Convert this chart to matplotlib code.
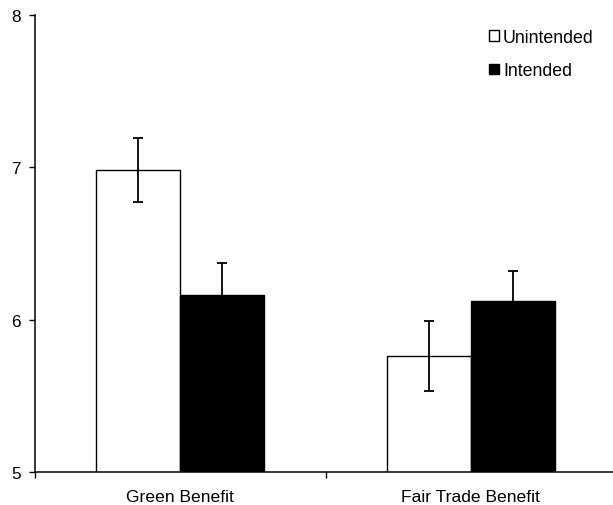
import matplotlib
matplotlib.use("Agg")
import matplotlib.pyplot as plt
import numpy as np

categories = ["Green Benefit", "Fair Trade Benefit"]
series_names = ["Unintended", "Intended"]
unintended = [6.98, 5.76]
intended = [6.16, 6.12]
unintended_err = [0.21, 0.23]
intended_err = [0.21, 0.20]
y_ticks = [5, 6, 7, 8]

plt.rcParams['font.family'] = ['Liberation Sans', 'DejaVu Sans']

fig = plt.figure(figsize=(6.13, 5.06), dpi=100)
ax = fig.add_axes([35/613, 33/506, 581/613, (473-16)/506])

x = np.arange(len(categories))
w = 0.29
err_kw = dict(elinewidth=1.3, capthick=1.3, ecolor='black')
b1 = ax.bar(x - w/2, unintended, w, bottom=0, color='white', edgecolor='black',
            linewidth=1.0, yerr=unintended_err, capsize=3.5, error_kw=err_kw,
            label=series_names[0], zorder=2)
b2 = ax.bar(x + w/2, intended, w, bottom=0, color='black', edgecolor='black',
            linewidth=1.0, yerr=intended_err, capsize=3.5, error_kw=err_kw,
            label=series_names[1], zorder=2)

ax.set_ylim(5, 8)
ax.set_xlim(-0.5, 1.5)
ax.set_yticks(y_ticks)
ax.set_yticklabels([str(t) for t in y_ticks], fontsize=12.3)
ax.set_xticks(x)
ax.set_xticklabels(categories, fontsize=12.6)
ax.set_xticks([-0.5, 0.5, 1.5], minor=True)
ax.tick_params(axis='x', which='major', length=0, pad=12)
ax.tick_params(axis='x', which='minor', length=4, width=1.0, direction='out')
ax.tick_params(axis='y', length=4, width=1.0, direction='out', pad=6)

for s in ['top', 'right']:
    ax.spines[s].set_visible(False)
for s in ['left', 'bottom']:
    ax.spines[s].set_linewidth(1.1)

leg = ax.legend(handles=[b1, b2], labels=series_names, loc='upper right',
                bbox_to_anchor=(0.974, 0.986), frameon=False, fontsize=12.8,
                handlelength=0.55, handleheight=0.55, handletextpad=0.25,
                labelspacing=0.95, borderaxespad=0)

fig.savefig("out.png", dpi=100)
